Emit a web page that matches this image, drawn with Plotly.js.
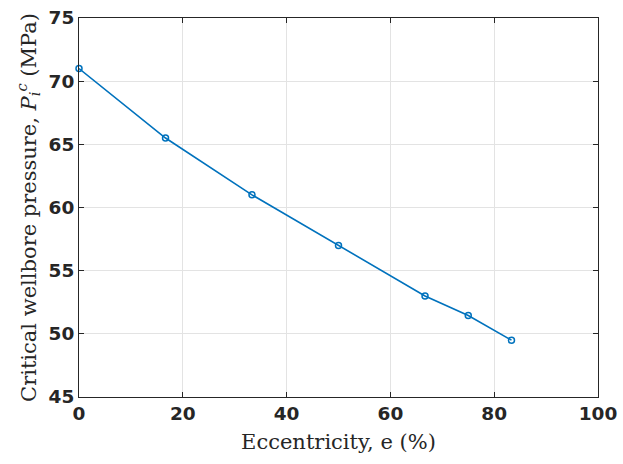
<!DOCTYPE html>
<html><head><meta charset="utf-8">
<script src="https://cdn.plot.ly/plotly-3.0.1.min.js"></script>
<style>html,body{margin:0;padding:0;background:#fff;}#chart{width:623px;height:464px;}</style>
</head><body><div id="chart"></div>
<script>
const eccentricity = [0, 16.67, 33.33, 50, 66.67, 75, 83.33];
const criticalPressure = [71, 65.5, 61, 57, 53, 51.45, 49.5];
const xTicks = [0, 20, 40, 60, 80, 100];
const yTicks = [45, 50, 55, 60, 65, 70, 75];

const trace = {
  x: eccentricity, y: criticalPressure, type: 'scatter', mode: 'lines+markers',
  line: {color: '#0072BD', width: 1.6},
  marker: {symbol: 'circle-open', size: 6, color: '#0072BD', line: {width: 1.5}},
  cliponaxis: false
};
const axisCommon = {
  showgrid: true, gridcolor: '#e3e3e3', gridwidth: 1,
  showline: true, linecolor: '#262626', linewidth: 1, mirror: 'ticks',
  ticks: 'inside', ticklen: 5, tickcolor: '#262626', zeroline: false,
  tickfont: {family: 'DejaVu Sans', size: 18.5, color: '#262626', weight: 'bold'}
};
const layout = {
  width: 623, height: 464,
  margin: {l: 79, r: 25, t: 18, b: 67},
  paper_bgcolor: '#fff', plot_bgcolor: '#fff',
  showlegend: false,
  xaxis: Object.assign({}, axisCommon, {
    range: [0, 100], tickvals: xTicks,
    title: {text: 'Eccentricity, e (%)', font: {family: 'DejaVu Serif', size: 21, color: '#262626'}, standoff: 11}
  }),
  yaxis: Object.assign({}, axisCommon, {
    range: [45, 75], tickvals: yTicks,
    title: {text: 'Critical wellbore pressure, <i>P</i><sub><i>i</i></sub><sup><i>c</i></sup> (MPa)', font: {family: 'DejaVu Serif', size: 21, color: '#262626'}, standoff: 6}
  })
};
Plotly.newPlot('chart', [trace], layout, {displayModeBar: false, staticPlot: true});
</script></body></html>
